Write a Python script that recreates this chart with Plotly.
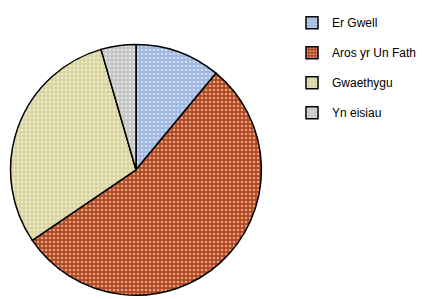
import plotly.graph_objects as go

labels = ["Er Gwell", "Aros yr Un Fath", "Gwaethygu", "Yn eisiau"]
values = [11, 54.5, 30, 4.5]
colors = ["#9DB6E2", "#B4461B", "#D8D49C", "#C4C4C4"]

pattern = dict(shape=".", fgcolor="white", size=4, solidity=0.35, fillmode="overlay")

fig = go.Figure()
fig.add_trace(go.Pie(
    labels=labels, values=values, sort=False, direction="clockwise", rotation=0,
    textinfo="none", hoverinfo="label+percent", showlegend=False,
    marker=dict(colors=colors, line=dict(color="black", width=1.5), pattern=pattern),
    domain=dict(x=[0, 256/430], y=[12/299, 268/299]),
))
for lab, col in zip(labels, colors):
    fig.add_trace(go.Bar(
        x=[None], y=[None], name=lab, legendgroup=lab,
        marker=dict(color=col, line=dict(color="black", width=1.5), pattern=pattern),
    ))
fig.update_layout(
    width=430, height=299, margin=dict(l=0, r=0, t=0, b=0),
    paper_bgcolor="white", plot_bgcolor="white",
    font=dict(family="Liberation Sans, Arial", size=12, color="black"),
    xaxis=dict(visible=False), yaxis=dict(visible=False),
    legend=dict(x=284/430, y=1.02, xanchor="left", yanchor="top", tracegroupgap=11,
                font=dict(size=12)),
)
fig.write_html("out.html")
